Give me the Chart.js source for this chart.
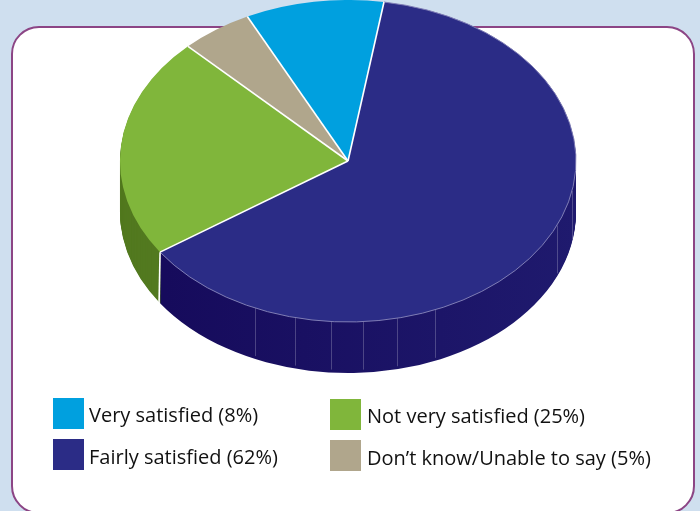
<!DOCTYPE html>
<html>
<head>
 <meta charset="utf-8" />
 <title>Satisfaction pie</title>
 <script src="https://cdn.jsdelivr.net/npm/chart.js@4"></script>
 <style>
  html, body { margin: 0; padding: 0; }
  body { width: 700px; height: 511px; overflow: hidden; position: relative; background: #cfdfef; }
  #card { position: absolute; left: 11px; top: 26px; width: 684px; height: 488px; box-sizing: border-box;
          background: #fff; border: 2px solid #8c4585; border-radius: 28px; }
  #pie { position: absolute; left: 0; top: 0; }
  .key { position: absolute; width: 31px; height: 31px; }
  .keytext { position: absolute; font: 20px "Open Sans", sans-serif; color: #111; white-space: nowrap; line-height: 31px; }
 </style>
</head>
<body>
 <div id="card"></div>
 <canvas id="pie" width="700" height="511"></canvas>
 <div id="legend"></div>

 <script>
  var categories = ["Very satisfied", "Fairly satisfied", "Not very satisfied", "Don\u2019t know/Unable to say"];
  // percentages printed in the legend
  var statedPercent = [8, 62, 25, 5];
  // share of the pie as it is drawn in the picture (not quite the printed numbers)
  var sliceShare = [9.8, 62.9, 22.2, 5.1];
  var startAngle = -26.2;

  var topColors = ["#00a0df", "#2b2c86", "#80b63b", "#b0a68c"];
  var wallColors = ["#00789f", "#1a1264", "#52791f", "#7f7760"];

  // small vertical seams on the navy wall, x of their upper end
  var seamX = [255, 295, 331, 363, 397, 435, 557, 572];

  var CY = 161, RY = 161, DEPTH = 51;

  function arcPoint(el, angle) {
   return { x: el.x + el.outerRadius * Math.cos(angle), y: CY + RY * Math.sin(angle) };
  }

  var tiltPlugin = {
   id: "tilt",
   beforeDatasetsDraw: function (chart) {
    var ctx = chart.ctx;
    var arcs = chart.getDatasetMeta(0).data;
    var R = arcs[0].outerRadius, y0 = arcs[0].y;
    var grad = ctx.createLinearGradient(arcs[0].x - R, 0, arcs[0].x + R, 0);
    grad.addColorStop(0.1, "#160b5c");
    grad.addColorStop(1, "#1f1a6e");

    // wall: same arcs again, darker, stacked downwards
    for (var d = DEPTH; d >= 1; d--) {
     ctx.save();
     ctx.translate(0, CY + d);
     ctx.scale(1, RY / R);
     ctx.translate(0, -y0);
     arcs.forEach(function (el, i) {
      var keep = el.options;
      var o = Object.create(keep);
      o.backgroundColor = i == 1 ? grad : wallColors[i];
      el.options = o;
      el.draw(ctx);
      el.options = keep;
     });
     ctx.restore();
    }

    ctx.save();
    ctx.translate(0, CY);
    ctx.scale(1, RY / R);
    ctx.translate(0, -y0);
   },
   afterDatasetsDraw: function (chart) {
    var ctx = chart.ctx;
    ctx.restore();
    var arcs = chart.getDatasetMeta(0).data;
    var navy = arcs[1];

    // seams on the wall
    ctx.strokeStyle = "rgba(255,255,255,0.22)";
    ctx.lineWidth = 1;
    seamX.forEach(function (x) {
     var t = (x - navy.x) / navy.outerRadius;
     var y = CY + RY * Math.sqrt(1 - t * t);
     ctx.beginPath();
     ctx.moveTo(x + 0.5, y);
     ctx.lineTo(x + 0.5, y + DEPTH - 3);
     ctx.stroke();
    });

    // thin light rim along the navy slice
    ctx.strokeStyle = "#7f7db5";
    ctx.beginPath();
    ctx.ellipse(navy.x, CY, navy.outerRadius, RY, 0, navy.startAngle, navy.endAngle);
    ctx.stroke();

    // white lines between the slices
    ctx.strokeStyle = "#fff";
    ctx.lineWidth = 1.6;
    arcs.forEach(function (el) {
     var p = arcPoint(el, el.startAngle);
     ctx.beginPath();
     ctx.moveTo(el.x, CY);
     ctx.lineTo(p.x, p.y);
     ctx.stroke();
    });
    // and down the wall where green meets navy
    var q = arcPoint(navy, navy.endAngle);
    ctx.beginPath();
    ctx.moveTo(q.x, q.y);
    ctx.lineTo(q.x - 1, q.y + DEPTH);
    ctx.stroke();
   }
  };

  new Chart(document.getElementById("pie"), {
   type: "pie",
   data: {
    labels: categories,
    datasets: [{
     data: sliceShare,
     backgroundColor: topColors,
     borderWidth: 0,
     clip: false
    }]
   },
   options: {
    responsive: false,
    animation: false,
    rotation: startAngle,
    layout: { padding: { left: 120, right: 124, top: 0, bottom: 55 } },
    plugins: { legend: { display: false }, tooltip: { enabled: false } }
   },
   plugins: [tiltPlugin]
  });

  // legend: two columns, read downwards
  var legendBox = document.getElementById("legend");
  var legendSpots = [[53, 398, 89, 399], [53, 439, 89, 441], [330, 399, 367, 400], [330, 440, 367, 442]];
  categories.forEach(function (name, i) {
   var spot = legendSpots[i];
   var key = document.createElement("div");
   key.className = "key";
   key.style.left = spot[0] + "px";
   key.style.top = spot[1] + "px";
   key.style.background = topColors[i];
   legendBox.append(key);
   var t = document.createElement("div");
   t.className = "keytext";
   t.style.left = spot[2] + "px";
   t.style.top = spot[3] + "px";
   t.textContent = name + " (" + statedPercent[i] + "%)";
   legendBox.append(t);
  });
 </script>
</body>
</html>
